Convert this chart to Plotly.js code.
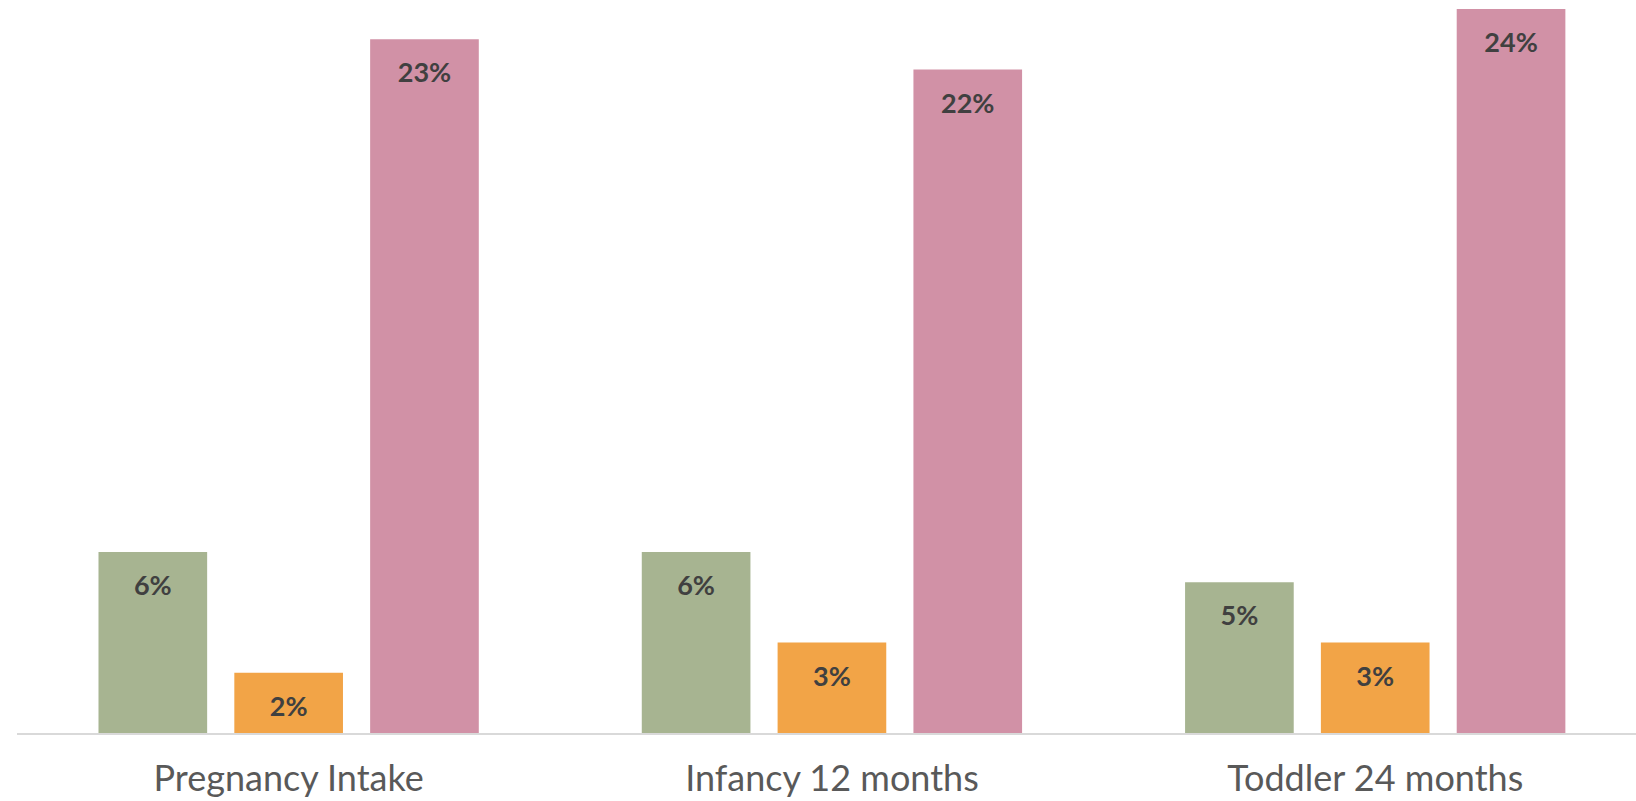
<!DOCTYPE html>
<html>
<head>
<meta charset="utf-8">
<script src="https://cdn.plot.ly/plotly-3.0.1.min.js"></script>
<style>
html,body{margin:0;padding:0;background:#fff;overflow:hidden;}
#chart{width:1636px;height:801px;}
</style>
</head>
<body>
<div id="chart"></div>
<script>
const categories = ["Pregnancy Intake", "Infancy 12 months", "Toddler 24 months"];
const seriesNames = ["Series A", "Series B", "Series C"];
const seriesA = [0.06, 0.06, 0.05];
const seriesB = [0.02, 0.03, 0.03];
const seriesC = [0.23, 0.22, 0.24];
const colors = ["#A7B491", "#F2A447", "#D191A6"];

const allSeries = [seriesA, seriesB, seriesC];
const labelFont = {family: "Lato, 'Open Sans', sans-serif", size: 27, color: "#404040", weight: 700};

const barTraces = allSeries.map((vals, i) => ({
  type: "bar",
  name: seriesNames[i],
  x: categories,
  y: vals,
  marker: {color: colors[i]},
  offsetgroup: String(i),
  alignmentgroup: "g",
  hoverinfo: "skip",
  showlegend: false
}));

const labelTraces = allSeries.map((vals, i) => ({
  type: "scatter",
  mode: "markers+text",
  name: seriesNames[i] + " labels",
  x: categories,
  y: vals,
  offsetgroup: String(i),
  alignmentgroup: "g",
  marker: {size: 35, opacity: 0, color: colors[i]},
  text: vals.map(v => Math.round(v * 100) + "%"),
  textposition: "bottom center",
  textfont: labelFont,
  hoverinfo: "skip",
  showlegend: false,
  cliponaxis: false
}));

const layout = {
  width: 1636,
  height: 801,
  margin: {l: 17, r: 0, t: 0, b: 68},
  paper_bgcolor: "#ffffff",
  plot_bgcolor: "#ffffff",
  showlegend: false,
  barmode: "group",
  scattermode: "group",
  bargap: 0.25,
  bargroupgap: 0.2,
  scattergap: 0.25,
  xaxis: {
    type: "category",
    range: [-0.5, 2.48],
    showline: true,
    linecolor: "#D9D9D9",
    linewidth: 1.5,
    ticks: "",
    showgrid: false,
    zeroline: false,
    tickfont: {family: "Lato, 'Open Sans', sans-serif", size: 36, color: "#595959"},
    ticklabelstandoff: 13
  },
  yaxis: {
    range: [0, 0.243],
    visible: false,
    showgrid: false,
    zeroline: false
  }
};

Plotly.newPlot("chart", barTraces.concat(labelTraces), layout, {displayModeBar: false, staticPlot: true});
</script>
</body>
</html>
